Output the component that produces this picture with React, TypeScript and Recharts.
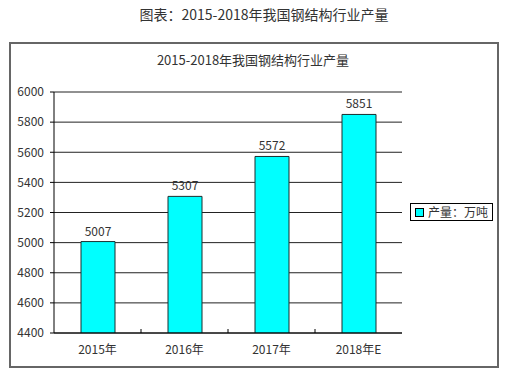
import {
  Bar,
  BarChart,
  CartesianGrid,
  LabelList,
  XAxis,
  YAxis,
} from "recharts";

const years = ["2015年", "2016年", "2017年", "2018年E"];
const output = [5007, 5307, 5572, 5851];
const yTicks = [4400, 4600, 4800, 5000, 5200, 5400, 5600, 5800, 6000];

const pageTitle = "图表：2015-2018年我国钢结构行业产量";
const chartTitle = "2015-2018年我国钢结构行业产量";
const seriesName = "产量：万吨";

const data = years.map((year, i) => ({ year, value: output[i] }));

const FONT = '"Noto Sans CJK SC", "DejaVu Sans", sans-serif';

const XTick = (props: any) => {
  const { x, y, payload, index } = props;
  const half = payload && typeof payload.offset === "number" ? payload.offset : 0;
  return (
    <g>
      {index > 0 && half > 0 ? (
        <line x1={x - half} x2={x - half} y1={y - 4} y2={y} stroke="#000" />
      ) : null}
      <text
        x={x}
        y={y}
        dy={21}
        textAnchor="middle"
        fontSize={12}
        fill="#333"
        fontFamily={FONT}
      >
        {payload.value}
      </text>
    </g>
  );
};

const LegendBox = () => (
  <div
    style={{
      position: "absolute",
      left: 410,
      top: 203,
      border: "1px solid #000",
      padding: "1px 4px 1px 4px",
      display: "flex",
      alignItems: "center",
      fontSize: 12,
      fontFamily: FONT,
      color: "#333",
      background: "#fff",
      whiteSpace: "nowrap",
      lineHeight: "14px",
    }}
  >
    <span
      style={{
        display: "inline-block",
        width: 7,
        height: 7,
        background: "#00FFFF",
        border: "1px solid #000",
        marginRight: 4,
      }}
    />
    {seriesName}
  </div>
);

const App = () => {
  return (
    <div
      style={{
        position: "absolute",
        left: 0,
        top: 0,
        width: 509,
        height: 376,
        background: "#fff",
        fontFamily: FONT,
      }}
    >
      <div
        style={{
          position: "absolute",
          left: 0,
          top: 4,
          width: 528,
          textAlign: "center",
          fontSize: 14,
          color: "#333",
          lineHeight: "20px",
        }}
      >
        {pageTitle}
      </div>
      <div
        style={{
          position: "absolute",
          left: 9,
          top: 42,
          width: 486,
          height: 322,
          border: "2px solid #666",
        }}
      />
      <div
        style={{
          position: "absolute",
          left: 0,
          top: 51,
          width: 506,
          textAlign: "center",
          fontSize: 13,
          color: "#333",
          lineHeight: "18px",
        }}
      >
        {chartTitle}
      </div>
      <div style={{ position: "absolute", left: 0, top: 0 }}>
        <BarChart
          width={509}
          height={376}
          data={data}
          margin={{ top: 92, right: 107, bottom: 13, left: 0 }}
        >
          <CartesianGrid yAxisId="left" vertical={false} stroke="#222" />
          <XAxis
            dataKey="year"
            height={30}
            tickLine={false}
            tickSize={0}
            tickMargin={0}
            axisLine={{ stroke: "#000" }}
            tick={<XTick />}
            interval={0}
          />
          <YAxis
            yAxisId="left"
            width={54}
            domain={[4400, 6000]}
            ticks={yTicks}
            interval={0}
            allowDataOverflow
            tickSize={4}
            tickMargin={6}
            tickLine={{ stroke: "#000" }}
            axisLine={{ stroke: "#000" }}
            tick={{ fontSize: 12, fill: "#333", fontFamily: FONT }}
          />
          <YAxis
            yAxisId="right"
            orientation="right"
            width={0}
            domain={[4400, 6000]}
            tick={false}
            tickLine={false}
            axisLine={{ stroke: "#888" }}
          />
          <Bar
            yAxisId="left"
            dataKey="value"
            name={seriesName}
            fill="#00FFFF"
            stroke="#1b2f2f"
            strokeWidth={1}
            barSize={34}
            isAnimationActive={false}
          >
            <LabelList
              dataKey="value"
              position="top"
              offset={6}
              fontSize={12}
              fill="#333"
              fontFamily={FONT}
            />
          </Bar>
        </BarChart>
      </div>
      <LegendBox />
    </div>
  );
};

export default App;
